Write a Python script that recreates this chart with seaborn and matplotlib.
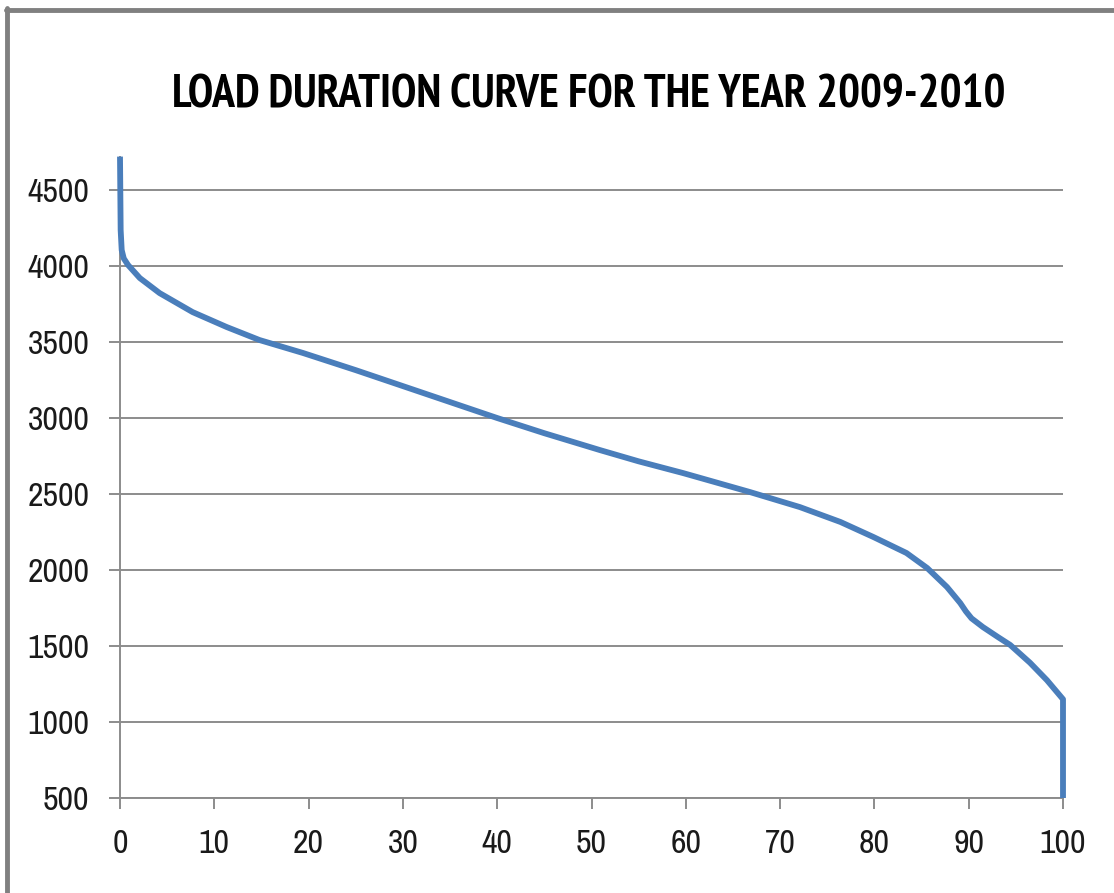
import matplotlib
matplotlib.use("Agg")
import matplotlib.pyplot as plt
from matplotlib import font_manager
from matplotlib.font_manager import FontProperties
from matplotlib.lines import Line2D
import seaborn as sns
import pandas as pd

# Data
duration_pct = [0, 0.07, 0.18, 0.4, 0.85, 2.1, 4.2, 7.7, 11.3, 14.8, 19.4, 25,
                30, 35, 40, 45, 50.9, 55, 59.7, 63, 66.8, 72.1, 76.4, 79.9, 83.4,
                85.6, 87.7, 89.1, 89.7, 90.3, 91.5, 93.1, 94.4, 96.5, 98.3, 100, 100]
load_mw = [4720, 4237, 4105, 4050, 4007, 3921, 3822, 3697, 3599, 3513, 3428, 3315,
           3210, 3105, 3000, 2900, 2789, 2715, 2638, 2580, 2513, 2414, 2316, 2217,
           2112, 2013, 1888, 1783, 1728, 1682, 1625, 1559, 1507, 1390, 1275, 1150, 500]
x_ticks = [0, 10, 20, 30, 40, 50, 60, 70, 80, 90, 100]
y_ticks = [500, 1000, 1500, 2000, 2500, 3000, 3500, 4000, 4500]
title = "LOAD DURATION CURVE FOR THE YEAR 2009-2010"

df = pd.DataFrame({"pct": duration_pct, "load": load_mw})

sns.set_theme(style="white")

# pick a condensed face if one is installed
def find_font(bold):
    best = None
    for f in font_manager.fontManager.ttflist:
        fn = f.fname.lower()
        cond = ("narrow" in fn or "condensed" in fn or "semicondensed" in fn)
        if not cond:
            continue
        isbold = ("bold" in fn) or (str(f.weight) in ("bold", "700"))
        if "oblique" in fn or "italic" in fn:
            continue
        if isbold != bold:
            continue
        score = 0
        if "dejavusanscondensed" in fn.replace("-", "").replace("_", ""):
            score += 5
        if "narrow" in fn:
            score += 10
        if "mono" in fn or "serif" in fn.replace("sans", ""):
            score -= 20
        if best is None or score > best[0]:
            best = (score, f.fname)
    if best is None or best[0] < 0:
        return None
    return best[1]

reg_file = find_font(False)
bold_file = find_font(True)
if reg_file:
    tick_fp = FontProperties(fname=reg_file)
else:
    tick_fp = FontProperties(family="Liberation Sans")
if bold_file:
    title_fp = FontProperties(fname=bold_file)
else:
    title_fp = FontProperties(family="Liberation Sans", weight="bold")

fig = plt.figure(figsize=(11.14, 8.93), dpi=100)
ax = fig.add_axes([120 / 1114, 95 / 893, (1063 - 120) / 1114, (798 - 156.6) / 893])

sns.lineplot(data=df, x="pct", y="load", sort=False, estimator=None, ax=ax,
             color="#4a7ebb", linewidth=4.2, clip_on=False)
ln = ax.lines[0]
ln.set_solid_joinstyle("round")
ln.set_solid_capstyle("butt")
ln.set_zorder(5)

ax.set_xlim(0, 100)
ax.set_ylim(500, 4720)
ax.set_xticks(x_ticks)
ax.set_yticks(y_ticks)
ax.set_xticklabels([str(v) for v in x_ticks])
ax.set_yticklabels([str(v) for v in y_ticks])
ax.set_xlabel("")
ax.set_ylabel("")

grid_c = "#8c8c8c"
ax.yaxis.grid(True, color=grid_c, linewidth=1.4)
ax.xaxis.grid(False)
for side in ["top", "right"]:
    ax.spines[side].set_visible(False)
for side in ["left", "bottom"]:
    ax.spines[side].set_color(grid_c)
    ax.spines[side].set_linewidth(1.4)
ax.tick_params(axis="both", which="major", direction="out", length=8,
               width=1.4, color=grid_c, labelcolor="#1a1a1a")
ax.tick_params(axis="x", pad=14, bottom=True)
ax.tick_params(axis="y", pad=14, left=True)

tick_size = 24.0
for lab in ax.get_xticklabels() + ax.get_yticklabels():
    lab.set_fontproperties(tick_fp)
    lab.set_fontsize(tick_size)

ttl = fig.text(589 / 1114, 1 - 95 / 893, title, ha="center", va="center",
               fontproperties=title_fp, fontsize=30, color="#000000")

# fit sizes to the reference's text widths
fig.canvas.draw()
r = fig.canvas.get_renderer()
w = ttl.get_window_extent(r).width
ttl.set_fontsize(30 * 832 / w)
ylab = [l for l in ax.get_yticklabels() if l.get_text() == "4500"][0]
w2 = ylab.get_window_extent(r).width
new_ts = tick_size * 62 / w2
for lab in ax.get_xticklabels() + ax.get_yticklabels():
    lab.set_fontsize(new_ts)

# Outer chart frame (top and left edges visible in the reference)
frame_c = "#808080"
fig.add_artist(Line2D([6 / 1114, 1.0], [1 - 9.5 / 893, 1 - 9.5 / 893],
                      transform=fig.transFigure, color=frame_c, linewidth=3.5))
fig.add_artist(Line2D([6.5 / 1114, 6.5 / 1114], [0.0, 1 - 8 / 893],
                      transform=fig.transFigure, color=frame_c, linewidth=3.5))

fig.savefig("out.png", dpi=100, facecolor="white")
